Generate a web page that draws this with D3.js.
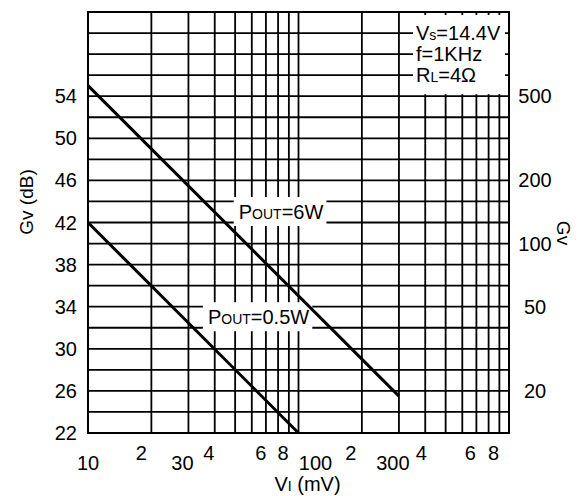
<!DOCTYPE html>
<html><head><meta charset="utf-8">
<script src="https://cdn.jsdelivr.net/npm/d3@7"></script>
<style>
html,body{margin:0;padding:0;background:#fff;}
svg{display:block;font-family:"Liberation Sans",Arial,Helvetica,sans-serif;}
</style></head><body>
<svg id="c" width="578" height="496"></svg>
<script>
// ---------- data ----------
const xGridValues = [10,20,30,40,50,60,70,80,90,100,200,300,400,500,600,700,800,900,1000];
const xTickValues = [10,20,30,40,60,80,100,200,300,400,600,800];
const xTickLabels = ["10","2","30","4","6","8","100","2","300","4","6","8"];
const yGridValues = [22,24,26,28,30,32,34,36,38,40,42,44,46,48,50,52,54,56,58,60,62];
const yTickValues = [22,26,30,34,38,42,46,50,54];
const gvTickValues = [20,50,100,200,500];
const pout6W  = [{vi:10, gv:55}, {vi:300, gv:25.5}];
const pout05W = [{vi:10, gv:42}, {vi:100, gv:22}];
const seriesNames = [
  {parts:[["P",0],["OUT",1],["=6W",0]], vi:82.6, gv:43},
  {parts:[["P",0],["OUT",1],["=0.5W",0]], vi:64.6, gv:33}
];
const conditions = [
  [["V",0],["s",1],["=14.4V",0]],
  [["f=1KHz",0]],
  [["R",0],["L",1],["=4\u03A9",0]]
];
const conditionLevels = [60,58,56];

// ---------- layout ----------
const W = 578, H = 496;
const L = 88, R = 509, T = 12, B = 433;
const FS = 20, FSS = 14;
const svg = d3.select("#c");
const x = d3.scaleLog().domain([10,1000]).range([L,R]);
const y = d3.scaleLinear().domain([22,62]).range([B,T]);
const db2gv = d => Math.pow(10, d/20);
const gv2db = g => 20*Math.log10(g);

function rich(sel, parts){
  parts.forEach(p=>{
    sel.append("tspan").attr("font-size", p[1]?FSS:FS).text(p[0]);
  });
}

// grid
const grid = svg.append("g").attr("stroke","#000").attr("stroke-width",1.8);
grid.selectAll("line.h").data(yGridValues).join("line").attr("class","h")
  .attr("x1",L).attr("x2",R).attr("y1",d=>y(d)).attr("y2",d=>y(d));
grid.selectAll("line.v").data(xGridValues).join("line").attr("class","v")
  .attr("y1",T).attr("y2",B).attr("x1",d=>x(d)).attr("x2",d=>x(d));

const boxes = svg.append("g").attr("fill","#fff");
// conditions box
boxes.append("rect").attr("x",413).attr("y",T+3).attr("width",R-4-413).attr("height",y(54)-2-(T+3));

// curves
const line = d3.line().x(d=>x(d.vi)).y(d=>y(d.gv));
svg.append("g").attr("fill","none").attr("stroke","#000").attr("stroke-width",3)
  .selectAll("path").data([pout6W,pout05W]).join("path").attr("d",line);

// frame
svg.append("rect").attr("x",L).attr("y",T).attr("width",R-L).attr("height",B-T)
  .attr("fill","none").attr("stroke","#000").attr("stroke-width",2);

// texts
const txt = svg.append("g").attr("fill","#000").attr("font-size",FS);

// series labels with white background
seriesNames.forEach(s=>{
  const t = txt.append("text").attr("x",x(s.vi)).attr("y",y(s.gv)+7).attr("text-anchor","middle");
  rich(t, s.parts);
  const bb = t.node().getBBox();
  boxes.append("rect").attr("x",bb.x-5).attr("y",y(s.gv)-15)
    .attr("width",bb.width+8).attr("height",29);
});

// conditions
conditions.forEach((c,i)=>{
  const t = txt.append("text").attr("x",416).attr("y",y(conditionLevels[i])+7);
  rich(t, c);
});

// left axis tick labels
txt.selectAll("text.yl").data(yTickValues).join("text").attr("class","yl")
  .attr("x",L-11).attr("y",d=>y(d)).attr("dy","0.35em").attr("text-anchor","end").text(d=>d);

// right axis (linear gain) tick labels
txt.selectAll("text.gl").data(gvTickValues).join("text").attr("class","gl")
  .attr("x",R+26).attr("y",d=>y(gv2db(d))).attr("dy","0.35em").attr("text-anchor","middle").text(d=>d);

// bottom tick labels (decade labels low, sub-decade digits raised)
const xLabelNudge = [0,-10,-6,-6,9,5,17,-11,-6,-4,8,5];
txt.selectAll("text.xl").data(xTickValues).join("text").attr("class","xl")
  .attr("x",(d,i)=>x(d)+xLabelNudge[i])
  .attr("y",(d,i)=>/^[2468]$/.test(xTickLabels[i]) ? B+27 : B+37)
  .attr("text-anchor","middle").text((d,i)=>xTickLabels[i]);

// axis titles
const xt = txt.append("text").attr("x",x(100)+9).attr("y",491).attr("text-anchor","middle").attr("font-size",19);
rich(xt, [["V",0],["I",1],[" (mV)",0]]);
txt.append("text").attr("transform","translate(26,202) rotate(-90)").attr("dy","0.35em")
  .attr("text-anchor","middle").attr("font-size",19).text("Gv (dB)");
txt.append("text").attr("transform","translate(564,233) rotate(90)").attr("dy","0.35em")
  .attr("text-anchor","middle").attr("font-size",19).text("Gv");
</script>
</body></html>
